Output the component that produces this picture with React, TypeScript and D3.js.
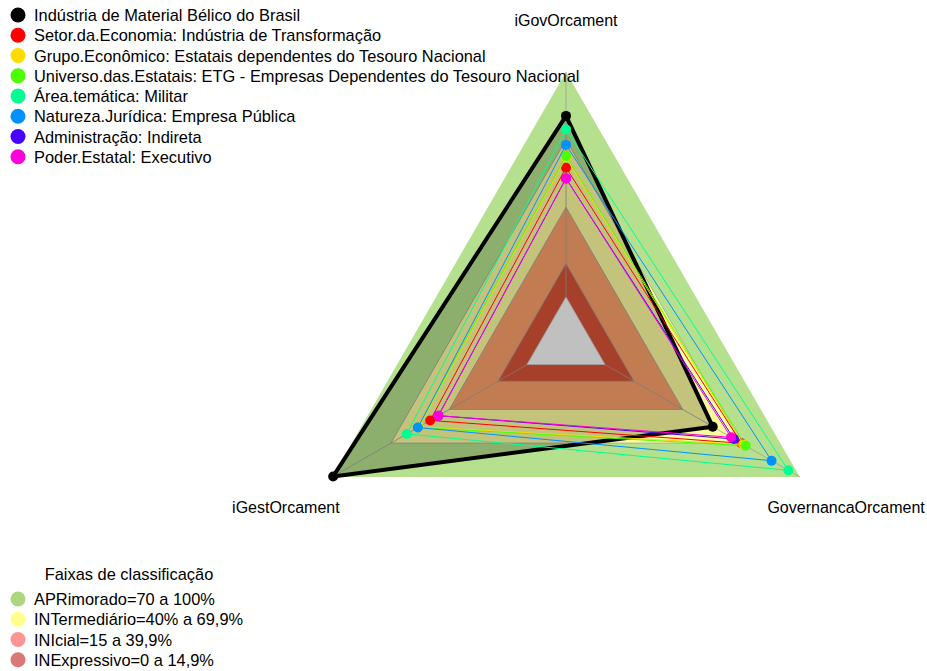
import { useEffect, useRef } from "react";
import * as d3 from "d3";

const axes = ["iGovOrcament", "iGestOrcament", "GovernancaOrcament"];

const seriesNames = [
  "Indústria de Material Bélico do Brasil",
  "Setor.da.Economia: Indústria de Transformação",
  "Grupo.Econômico: Estatais dependentes do Tesouro Nacional",
  "Universo.das.Estatais: ETG - Empresas Dependentes do Tesouro Nacional",
  "Área.temática: Militar",
  "Natureza.Jurídica: Empresa Pública",
  "Administração: Indireta",
  "Poder.Estatal: Executivo",
];
const seriesColors = ["#000000", "#FF0000", "#FFDB00", "#49FF00", "#00FF92", "#0092FF", "#4900FF", "#FF00DB"];

// values per axis, same order as axes
const iGovValues = [80.5, 57.5, 62, 62.7, 74.5, 67.6, 52.7, 52.7];
const iGestValues = [99.5, 49.7, 55.5, 56, 61.7, 56, 45.5, 45.5];
const governancaValues = [55.3, 70, 71, 72.2, 94.1, 85.5, 66.2, 64.7];

const bandNames = ["APRimorado=70 a 100%", "INTermediário=40% a 69,9%", "INIcial=15 a 39,9%", "INExpressivo=0 a 14,9%"];
const bandLimits = [100, 69.9, 39.9, 14.9];
const bandLegendColors = ["#aad77f", "#ffff8c", "#ff9494", "#d87878"];
const bandFillColors = ["#b5e08e", "#fafa9e", "#f99f69", "#d75338"];

const FONT = "'Liberation Sans', Arial, sans-serif";

function App() {
  const ref = useRef<SVGSVGElement>(null);

  useEffect(() => {
    const width = 927;
    const height = 671;
    const cx = 566;
    const cy = 342;
    const R = 270;
    const svg = d3.select(ref.current).attr("width", width).attr("height", height);
    svg.selectAll("*").remove();

    const r = d3.scaleLinear().domain([0, 100]).range([R / 6, R]);
    const angle = (i: number) => ((-90 - 120 * i) * Math.PI) / 180;
    const pt = (v: number, i: number): [number, number] => [cx + r(v) * Math.cos(angle(i)), cy + r(v) * Math.sin(angle(i))];
    const line = d3.line<[number, number]>().curve(d3.curveLinearClosed);

    const chart = svg.append("g");

    // bands
    bandLimits.forEach((lim, k) => {
      chart
        .append("path")
        .attr("d", line(axes.map((_, i) => pt(lim, i))))
        .attr("fill", bandFillColors[k])
        .attr("stroke", k === 0 ? "none" : "#a0a0a0")
        .attr("stroke-width", 0.8);
    });

    // axes
    axes.forEach((_, i) => {
      const [x0, y0] = pt(0, i);
      const [x1, y1] = pt(100, i);
      chart.append("line").attr("x1", x0).attr("y1", y0).attr("x2", x1).attr("y2", y1)
        .attr("stroke", "#a0a0a0").attr("stroke-width", 0.8);
    });

    const data = seriesNames.map((name, s) => ({
      name,
      color: seriesColors[s],
      values: [iGovValues[s], iGestValues[s], governancaValues[s]],
    }));

    // black series fill
    chart
      .append("path")
      .attr("d", line(data[0].values.map((v, i) => pt(v, i))))
      .attr("fill", "rgba(0,0,0,0.22)")
      .attr("stroke", "none");

    // center
    chart
      .append("path")
      .attr("d", line(axes.map((_, i) => pt(0, i))))
      .attr("fill", "#c0c0c0")
      .attr("stroke", "#a0a0a0")
      .attr("stroke-width", 0.8);

    data.forEach((d, s) => {
      const pts = d.values.map((v, i) => pt(v, i));
      chart
        .append("path")
        .attr("d", line(pts))
        .attr("fill", "none")
        .attr("stroke", d.color)
        .attr("stroke-width", s === 0 ? 4 : 1)
        .attr("stroke-linejoin", "round");
      chart
        .selectAll(null)
        .data(pts)
        .join("circle")
        .attr("cx", (p) => p[0])
        .attr("cy", (p) => p[1])
        .attr("r", 5)
        .attr("fill", d.color);
    });

    // axis labels
    axes.forEach((name, i) => {
      const a = angle(i);
      const rl = i === 0 ? R * 1.19 : R * 1.198;
      chart
        .append("text")
        .attr("x", cx + rl * Math.cos(a))
        .attr("y", cy + rl * Math.sin(a) + (i === 0 ? 0 : 3.5))
        .attr("text-anchor", "middle")
        .attr("dominant-baseline", "central")
        .attr("font-family", FONT)
        .attr("font-size", 16)
        .text(name);
    });

    // series legend
    const leg = svg.append("g");
    data.forEach((d, s) => {
      const y = 15 + s * 20.25;
      leg.append("circle").attr("cx", 18).attr("cy", y).attr("r", 7.5).attr("fill", d.color);
      leg.append("text").attr("x", 34).attr("y", y).attr("dominant-baseline", "central")
        .attr("font-family", FONT).attr("font-size", 16.4).text(d.name);
    });

    // band legend
    const bl = svg.append("g");
    bl.append("text").attr("x", 129).attr("y", 574).attr("text-anchor", "middle").attr("dominant-baseline", "central")
      .attr("font-family", FONT).attr("font-size", 16.4).text("Faixas de classificação");
    bandNames.forEach((name, k) => {
      const y = 599 + k * 20.25;
      bl.append("circle").attr("cx", 18).attr("cy", y).attr("r", 7.5).attr("fill", bandLegendColors[k]);
      bl.append("text").attr("x", 34).attr("y", y).attr("dominant-baseline", "central")
        .attr("font-family", FONT).attr("font-size", 16.4).text(name);
    });
  }, []);

  return (
    <div style={{ position: "absolute", left: 0, top: 0, background: "#fff" }}>
      <svg ref={ref} style={{ display: "block" }} />
    </div>
  );
}

export default App;
